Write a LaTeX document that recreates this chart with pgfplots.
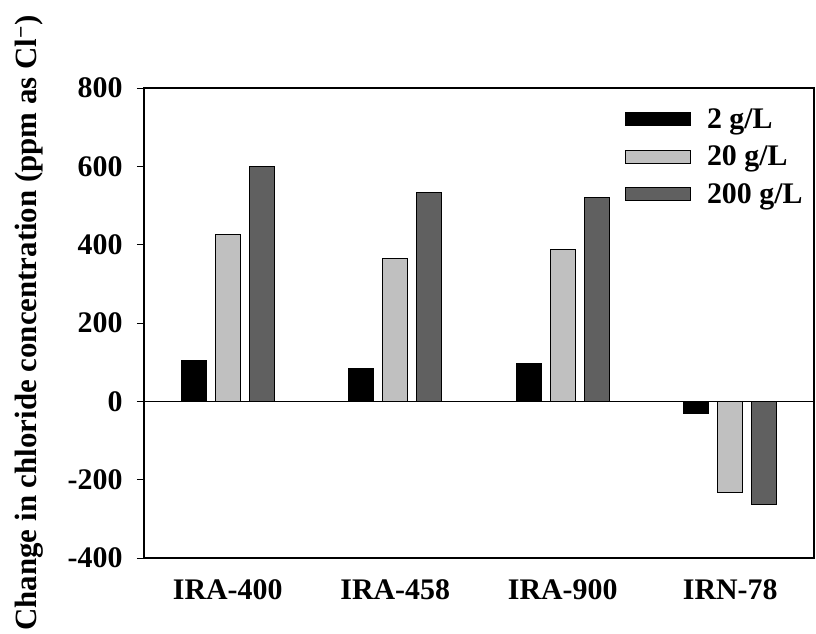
\documentclass[border=0pt]{standalone}
\usepackage{pgfplots}
\pgfplotsset{compat=1.18}
\usepackage{fontspec}
\setmainfont{Liberation Serif}
\definecolor{lightbar}{HTML}{C0C0C0}
\definecolor{darkbar}{HTML}{606060}
\pgfplotsset{mylegend/.style={legend image code/.code={\draw[##1,/tikz/.cd,yshift=0pt] (0bp,-6.5bp) rectangle (65bp,6.5bp);}}}
\pgfplotstableread{
x v2 v20 v200
0 105 426 600
1 85 364 533
2 97 387 521
3 -31 -233 -264
}\datatable
\begin{document}
\begin{tikzpicture}
\begin{axis}[
  scale only axis,
  width=670bp, height=470bp,
  xmin=-0.5, xmax=3.5,
  ymin=-400, ymax=800,
  ybar=9bp, bar width=25bp,
  xtick={0,1,2,3},
  xticklabels={IRA-400,IRA-458,IRA-900,IRN-78},
  ytick={-400,-200,0,200,400,600,800},
  yticklabels={-400,-200,0,200,400,600,800},
  /pgf/number format/assume math mode=true,
  x tick style={draw=none},
  y tick style={black, line width=0.9bp},
  ytick pos=left,
  tick align=outside,
  major tick length=7bp,
  axis line style={black, line width=1.1bp},
  tick label style={font=\bfseries\fontsize{30}{34}\selectfont},
  xticklabel style={yshift=-11bp},
  yticklabel style={xshift=-11bp},
  ylabel={\bfseries\fontsize{31}{36}\selectfont Change in chloride concentration (ppm as Cl\textsuperscript{−})},
  ylabel style={at={(rel axis cs:0,0.5)}, anchor=base, yshift=107bp},
  extra y ticks={0},
  extra y tick labels={},
  extra y tick style={grid=major, major grid style={black, line width=0.9bp}},
  legend style={at={(0.718,0.961)}, anchor=north west, draw=none, fill=none,
    font=\bfseries\fontsize{30}{34}\selectfont, row sep=12bp, inner sep=0pt,
    /tikz/every odd column/.append style={column sep=14bp}},
  legend cell align=left,
]
\addplot[fill=black, draw=black, line width=0.8bp, mylegend]
  table[x=x,y=v2]{\datatable};
\addplot[fill=lightbar, draw=black, line width=0.8bp, mylegend]
  table[x=x,y=v20]{\datatable};
\addplot[fill=darkbar, draw=black, line width=0.8bp, mylegend]
  table[x=x,y=v200]{\datatable};
\legend{2 g/L, 20 g/L, 200 g/L}
\coordinate (ll) at (rel axis cs:0,0);
\coordinate (ur) at (rel axis cs:1,1);
\end{axis}
\pgfresetboundingbox
\path ([shift={(-144bp,-76bp)}]ll) rectangle ([shift={(2bp,88bp)}]ur);
\end{tikzpicture}
\end{document}
